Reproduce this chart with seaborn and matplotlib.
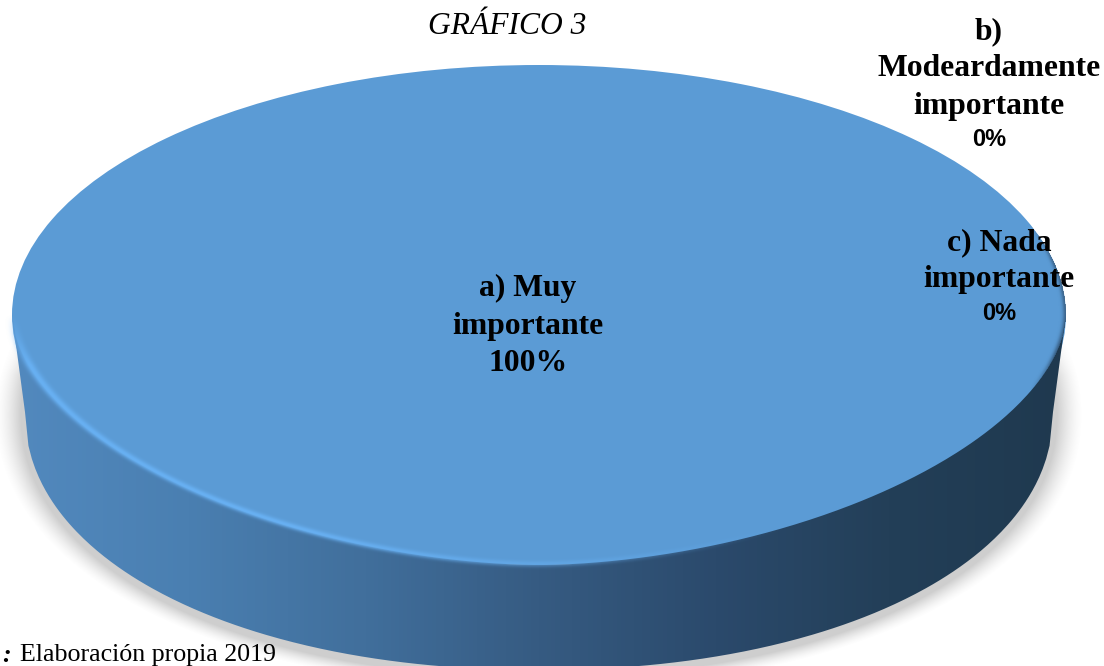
#! /usr/bin/env python
"""
Pie chart with a 3D look for the "GRAFICO 3" survey answer
"""

import numpy as np
import seaborn as sns
import matplotlib
matplotlib.use("Agg")
import matplotlib.pyplot as plt
from matplotlib.path import Path
from matplotlib.patches import PathPatch

TITLE = "GRÁFICO 3"
SOURCE = "Elaboración propia 2019"
CATEGORIES = ["a) Muy\nimportante", "b)\nModeardamente\nimportante", "c) Nada\nimportante"]
VALUES = [100, 0, 0]

W, H = 1104, 666
# top face and floor shapes, in pixels
CX, CY, A, B = 539, 315, 527, 250
FX, FY, FA, FB = 539, 412, 514, 258
# the near side of the disc is a little flatter than an ellipse (perspective)
NEAR_EXP = 1.8
FLOOR_EXP = 2.1


def outline_lower(cx, cy, a, b, n, num=300):
    """Lower half of a superellipse, from right to left"""
    x = np.linspace(1, -1, num)
    y = (1 - np.abs(x) ** n) ** (1 / n)
    return np.column_stack([cx + a * x, cy + b * y])


def top_radius(xx, yy):
    """Normalised radius of the top face, 1 on its edge"""
    dx = np.abs(xx - CX) / A
    dy = np.abs(yy - CY) / B
    n = np.where(yy > CY, NEAR_EXP, 2.0)
    return (dx ** n + dy ** n) ** (1 / n)


sns.set_theme(style="white")
plt.rcParams["font.family"] = ["Liberation Serif", "DejaVu Sans"]

fig = plt.figure(figsize=(W / 100, H / 100), dpi=100, facecolor="white")

ax_bg = fig.add_axes([0, 0, 1, 1])
ax_bg.set_xlim(0, W)
ax_bg.set_ylim(H, 0)
ax_bg.axis("off")

xx, yy = np.meshgrid(np.arange(W) + 0.5, np.arange(H) + 0.5)

# soft shadow under the disc
fdx = np.abs(xx - FX) / (FA + 4)
fdy = np.abs(yy - FY - 3) / (FB + 4)
r_floor = (fdx ** FLOOR_EXP + fdy ** FLOOR_EXP) ** (1 / FLOOR_EXP)
shadow = np.zeros((H, W, 4))
shadow[..., :3] = 0.5
shadow[..., 3] = 0.38 * np.clip((1.05 - r_floor) / 0.05, 0, 1) ** 1.5 * np.clip((yy - CY) / 60, 0, 1)
ax_bg.imshow(shadow, extent=(0, W, H, 0), aspect="auto", zorder=1)
ax_bg.set_xlim(0, W)
ax_bg.set_ylim(H, 0)

# the pie itself, stretched into the top face
ax_pie = fig.add_axes([(CX - A) / W, 1 - (CY + B) / H, 2 * A / W, 2 * B / H])
ax_pie.patch.set_alpha(0)
ax_pie.pie(VALUES, colors=["#5B9BD5", "#ED7D31", "#A5A5A5"], startangle=90,
           radius=1, wedgeprops={"linewidth": 0, "edgecolor": "none"})
ax_pie.set_aspect("auto")
ax_pie.set_xlim(-1, 1)
ax_pie.set_ylim(-1, 1)

ax_top = fig.add_axes([0, 0, 1, 1])
ax_top.patch.set_alpha(0)
ax_top.axis("off")

# side wall goes over the pie, between the near edge and the floor
wall_cols = sns.blend_palette(
    ["#5289BE", "#4A7FB1", "#416F9C", "#365B82", "#2B4A6C", "#233F58", "#1F394F"], 256
)
wall = np.array(wall_cols)[np.newaxis, :, :]
im = ax_top.imshow(wall, extent=(CX - A, CX + A, H, 0), aspect="auto", zorder=1)
floor = outline_lower(FX, FY, FA, FB, FLOOR_EXP)
near = outline_lower(CX, CY, A, B, NEAR_EXP)[::-1]
ax_top.set_xlim(0, W)
ax_top.set_ylim(H, 0)
outline = np.vstack([[CX + A, CY], floor, near])
im.set_clip_path(PathPatch(Path(outline), transform=ax_top.transData))

# lit rim and dark fringe on the edge of the top face
r_top = top_radius(xx, yy)
dist = (1 - r_top) * B * np.hypot(1, (xx - CX) / A * 0.9)
rim = np.zeros((H, W, 4))
rim[..., :3] = matplotlib.colors.to_rgb("#68B0F2")
fade = np.clip((CX + 250 - xx) / 500, 0, 1) * np.clip((yy - CY) / 50, 0, 1)
rim[..., 3] = np.exp(-((dist - 1) / 3.0) ** 2) * fade
ax_top.imshow(rim, extent=(0, W, H, 0), aspect="auto", zorder=2)
fringe = np.zeros((H, W, 4))
fringe[..., :3] = matplotlib.colors.to_rgb("#2F4F6F")
fringe[..., 3] = 0.7 * np.exp(-(dist / 2.0) ** 2) * np.clip((xx - 1030) / 25, 0, 1) * (dist > 0)
ax_top.imshow(fringe, extent=(0, W, H, 0), aspect="auto", zorder=2)
ax_top.set_xlim(0, W)
ax_top.set_ylim(H, 0)

# labels
serif_bold = dict(fontsize=22.8, fontweight="bold", color="black", ha="center",
                  va="center", linespacing=1.37, zorder=5)
pct_sans = dict(fontsize=17, fontweight="bold", color="black", ha="center",
                va="center", family="Liberation Sans", zorder=5)

ax_top.text(528, 326, f"{CATEGORIES[0]}\n{VALUES[0]}%", **serif_bold)
ax_top.text(989, 69, CATEGORIES[1], **serif_bold)
ax_top.text(989, 139, f"{VALUES[1]}%", **pct_sans)
ax_top.text(999, 261, CATEGORIES[2], **serif_bold)
ax_top.text(999, 314, f"{VALUES[2]}%", **pct_sans)

ax_top.text(507, 26, TITLE, fontsize=22.7, style="italic", color="black",
            ha="center", va="center", zorder=5)
ax_top.text(2, 655, ":", fontsize=18.7, style="italic", fontweight="bold",
            color="black", ha="left", va="center", zorder=5)
ax_top.text(20, 655, SOURCE, fontsize=18.7, color="black", ha="left", va="center", zorder=5)

fig.savefig("out.png", dpi=100)
